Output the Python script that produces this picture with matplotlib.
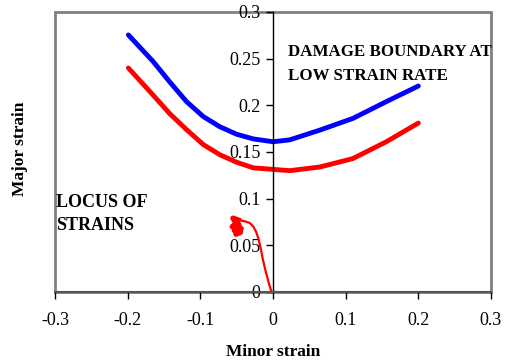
import matplotlib
matplotlib.use("Agg")
import matplotlib.pyplot as plt
from matplotlib.patches import Rectangle

plt.rcParams['font.family'] = ['Liberation Serif', 'DejaVu Serif']

# Data
blue_x = [-0.199, -0.165, -0.142, -0.119, -0.096, -0.073, -0.05, -0.027, 0.0,
          0.023, 0.065, 0.11, 0.156, 0.2]
blue_y = [0.2754, 0.247, 0.225, 0.204, 0.188, 0.177, 0.169, 0.164, 0.161,
          0.163, 0.1736, 0.186, 0.204, 0.2207]
red_x = [-0.199, -0.165, -0.142, -0.119, -0.096, -0.073, -0.05, -0.027, 0.0,
         0.023, 0.065, 0.11, 0.156, 0.2]
red_y = [0.240, 0.211, 0.191, 0.174, 0.158, 0.147, 0.139, 0.133, 0.1314,
         0.130, 0.134, 0.143, 0.161, 0.181]
locus_x = [0.004, -0.002, -0.006, -0.010, -0.014, -0.017, -0.020, -0.023, -0.027,
           -0.032, -0.040, -0.048, -0.055, -0.050, -0.056, -0.047, -0.053, -0.044,
           -0.051, -0.045, -0.049]
locus_y = [0.0, 0.0, 0.010, 0.022, 0.035, 0.047, 0.057, 0.064, 0.070,
           0.074, 0.076, 0.077, 0.079, 0.073, 0.070, 0.072, 0.066, 0.068,
           0.062, 0.064, 0.068]
xticks = [-0.3, -0.2, -0.1, 0, 0.1, 0.2, 0.3]
yticks = [0, 0.05, 0.1, 0.15, 0.2, 0.25, 0.3]
xtick_labels = ['-0.3', '-0.2', '-0.1', '0', '0.1', '0.2', '0.3']
ytick_labels = ['0', '0.05', '0.1', '0.15', '0.2', '0.25', '0.3']

fig = plt.figure(figsize=(5.15, 3.63), dpi=100)
ax = fig.add_axes([55/515, 1 - 292/363, (491-55)/515, (292-12)/363])

ax.plot(blue_x, blue_y, color='#0000ff', lw=3.5, solid_capstyle='round',
        solid_joinstyle='round')
ax.plot(red_x, red_y, color='#ff0000', lw=3.5, solid_capstyle='round',
        solid_joinstyle='round')
ax.plot(locus_x, locus_y, color='#ff0000', lw=1.6)
ax.plot(locus_x[11:], locus_y[11:], color='#ff0000', lw=4)

ax.set_xlim(-0.3, 0.3)
ax.set_ylim(0, 0.3)
ax.set_xticks(xticks)
ax.set_xticklabels(xtick_labels)
ax.set_yticks(yticks)
ax.set_yticklabels(ytick_labels)

for s in ['top', 'right']:
    ax.spines[s].set_visible(False)
ax.spines['left'].set_position(('data', 0))
ax.spines['left'].set_color('black')
ax.spines['left'].set_linewidth(1.0)
ax.spines['bottom'].set_color('#555555')
ax.spines['bottom'].set_linewidth(1.5)
ax.add_patch(Rectangle((0, 0), 1, 1, transform=ax.transAxes, fill=False,
                       edgecolor='#808080', lw=2, clip_on=False, zorder=0))

ax.tick_params(axis='both', direction='out', labelsize=13, length=5, width=1, pad=4)
ax.tick_params(axis='x', pad=9.5)

ax.text(0.0206, 0.266, 'DAMAGE BOUNDARY AT\nLOW STRAIN RATE', fontsize=12.2,
        fontweight='bold', va='top', ha='left', linespacing=1.7)
ax.text(-0.2985, 0.105, 'LOCUS OF\nSTRAINS', fontsize=13, fontweight='bold',
        va='top', ha='left', linespacing=1.5)

ax.set_xlabel('Minor strain', fontsize=12.5, fontweight='bold', labelpad=11)
fig.text(20.5/515, 1 - 149/363, 'Major strain', rotation=90, fontsize=12.5,
         fontweight='bold', ha='center', va='center')

fig.savefig('out.png', dpi=100)
